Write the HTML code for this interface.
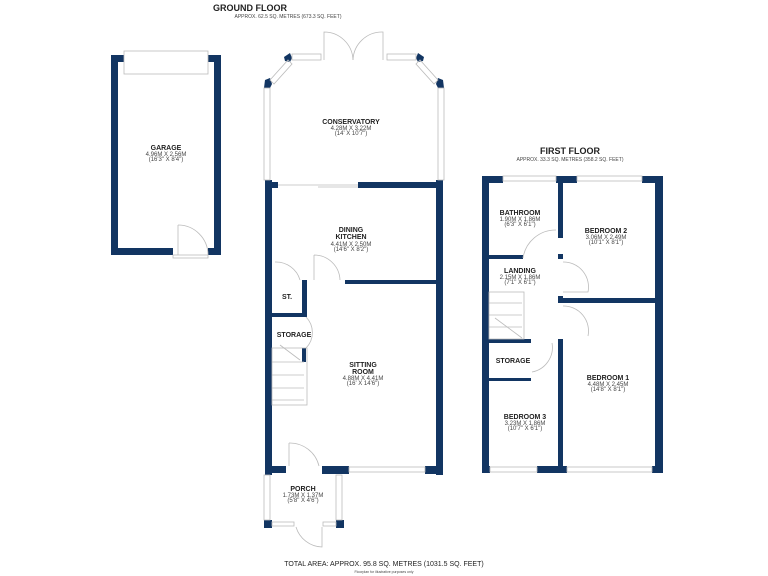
<!DOCTYPE html>
<html><head><style>
html,body{margin:0;padding:0;background:#fff;width:768px;height:576px;overflow:hidden}
svg{display:block}
text{font-family:"Liberation Sans",sans-serif;fill:#222;text-anchor:middle}
.n{font-weight:bold;font-size:7px}
.d{font-size:6px;fill:#444}
</style></head><body>
<svg width="768" height="576" viewBox="0 0 768 576">
<g fill="#123562" stroke="none">
<!-- Garage -->
<rect x="111" y="55" width="7" height="200"/>
<rect x="214" y="55" width="7" height="200"/>
<rect x="111" y="55" width="13" height="7"/>
<rect x="208" y="55" width="13" height="7"/>
<rect x="111" y="248" width="62" height="7"/>
<rect x="208" y="248" width="13" height="7"/>
<!-- Ground floor main -->
<rect x="265" y="180" width="7" height="295"/>
<rect x="436" y="180" width="7" height="295"/>
<rect x="265" y="182" width="13" height="6"/>
<rect x="358" y="182" width="80" height="6"/>
<rect x="345" y="280" width="92" height="4"/>
<rect x="302" y="280" width="5" height="37"/>
<rect x="272" y="313" width="35" height="4"/>
<rect x="302" y="348" width="4" height="14"/>
<rect x="265" y="466" width="21" height="7"/>
<rect x="322" y="466" width="27" height="8"/>
<rect x="425" y="466" width="18" height="8"/>
<rect x="264" y="520" width="8" height="8"/>
<rect x="336" y="520" width="8" height="8"/>
<!-- conservatory corners -->
<polygon points="284,57 290,53 292,58 290,62 285,61"/>
<polygon points="424,57 418,53 416,58 418,62 423,61"/>
<polygon points="265,80 270,78 272,84 270,88 264,88"/>
<polygon points="443,80 438,78 436,84 438,88 444,88"/>
<!-- First floor -->
<rect x="482" y="176" width="7" height="297"/>
<rect x="655" y="176" width="8" height="297"/>
<rect x="482" y="176" width="21" height="7"/>
<rect x="556" y="176" width="21" height="7"/>
<rect x="642" y="176" width="21" height="7"/>
<rect x="482" y="466" width="8" height="7"/>
<rect x="537" y="466" width="30" height="7"/>
<rect x="652" y="466" width="11" height="7"/>
<rect x="558" y="176" width="5" height="62"/>
<rect x="558" y="254" width="5" height="5"/>
<rect x="558" y="296" width="5" height="7"/>
<rect x="558" y="339" width="5" height="127"/>
<rect x="489" y="255" width="34" height="4"/>
<rect x="563" y="298" width="92" height="5"/>
<rect x="489" y="339" width="42" height="4"/>
<rect x="489" y="378" width="42" height="3"/>
</g>
<g fill="none" stroke="#bbb" stroke-width="0.8">
<!-- garage door panel -->
<rect x="124" y="51" width="84" height="23"/>
<line x1="178" y1="225" x2="178" y2="255"/>
<path d="M178 225 A30 30 0 0 1 208 255"/>
<rect x="173" y="255" width="35" height="3"/>
<!-- conservatory windows -->
<rect x="292" y="54" width="29" height="6"/>
<rect x="387" y="54" width="29" height="6"/>
<rect x="264" y="88" width="6" height="92"/>
<rect x="438" y="88" width="6" height="92"/>
<polygon points="270,80 288,60 292,64 274,84"/>
<polygon points="438,80 420,60 416,64 434,84"/>
<path d="M324 60 V32 A29 29 0 0 1 353 60"/>
<path d="M383 60 V32 A29 29 0 0 0 353 60"/>
<line x1="278" y1="185" x2="358" y2="185"/>
<line x1="318" y1="187" x2="358" y2="187"/>
<!-- interior doors -->
<path d="M275 262 A25 25 0 0 1 300 280"/>
<path d="M314 255 A26 26 0 0 1 340 280 M314 255 V280"/>
<path d="M306 317 A22 22 0 0 1 306 348"/>
<!-- stairs -->
<rect x="272" y="348" width="35" height="57"/>
<line x1="272" y1="362" x2="304" y2="362"/><line x1="272" y1="375" x2="304" y2="375"/>
<line x1="272" y1="388" x2="304" y2="388"/><line x1="272" y1="400" x2="304" y2="400"/>
<line x1="280" y1="345" x2="300" y2="360"/>
<!-- sitting window -->
<rect x="349" y="467" width="76" height="5"/>
<path d="M289 443 V466 M289 443 A30 30 0 0 1 319 466"/>
<rect x="264" y="475" width="6" height="45"/>
<rect x="336" y="475" width="6" height="45"/>
<rect x="272" y="522" width="22" height="4"/>
<rect x="323" y="522" width="13" height="4"/>
<path d="M296 527 A28 28 0 0 0 322 547 V527"/>
<!-- first floor windows -->
<rect x="503" y="176" width="53" height="5"/>
<rect x="577" y="176" width="65" height="5"/>
<rect x="490" y="467" width="47" height="5"/>
<rect x="567" y="467" width="85" height="5"/>
<path d="M523 258 A33 33 0 0 1 556 230"/>
<path d="M563 262 A25 25 0 0 1 588 292 H563"/>
<path d="M563 306 A25 25 0 0 1 588 336"/>
<path d="M552 343 A25 25 0 0 1 532 372"/>
<rect x="489" y="292" width="35" height="47"/>
<line x1="489" y1="303" x2="522" y2="303"/><line x1="489" y1="315" x2="522" y2="315"/>
<line x1="489" y1="327" x2="522" y2="327"/><line x1="495" y1="318" x2="522" y2="338"/>
</g>
<text x="250" y="11" style="font-weight:bold;font-size:9px">GROUND FLOOR</text>
<text x="288" y="18" class="d" style="font-size:5px">APPROX. 62.5 SQ. METRES (673.3 SQ. FEET)</text>
<text x="166" y="150" class="n">GARAGE</text><text x="166" y="156" class="d">4.96M X 2.56M</text><text x="166" y="161" class="d">(16'3" X 8'4")</text>
<text x="351" y="124" class="n">CONSERVATORY</text><text x="351" y="130" class="d">4.28M X 3.22M</text><text x="351" y="135" class="d">(14' X 10'7")</text>
<text x="351" y="232" class="n">DINING</text><text x="351" y="239" class="n">KITCHEN</text><text x="351" y="246" class="d">4.41M X 2.50M</text><text x="351" y="251" class="d">(14'6" X 8'2")</text>
<text x="287" y="299" class="n">ST.</text>
<text x="294" y="337" class="n">STORAGE</text>
<text x="363" y="367" class="n">SITTING</text><text x="363" y="374" class="n">ROOM</text><text x="363" y="380" class="d">4.88M X 4.41M</text><text x="363" y="385" class="d">(16' X 14'6")</text>
<text x="303" y="491" class="n">PORCH</text><text x="303" y="497" class="d">1.73M X 1.37M</text><text x="303" y="502" class="d">(5'8" X 4'6")</text>
<text x="570" y="154" style="font-weight:bold;font-size:9px">FIRST FLOOR</text>
<text x="570" y="161" class="d" style="font-size:5px">APPROX. 33.3 SQ. METRES (358.2 SQ. FEET)</text>
<text x="520" y="215" class="n">BATHROOM</text><text x="520" y="221" class="d">1.90M X 1.86M</text><text x="520" y="226" class="d">(6'3" X 6'1")</text>
<text x="606" y="233" class="n">BEDROOM 2</text><text x="606" y="239" class="d">3.06M X 2.49M</text><text x="606" y="244" class="d">(10'1" X 8'1")</text>
<text x="520" y="273" class="n">LANDING</text><text x="520" y="279" class="d">2.15M X 1.86M</text><text x="520" y="284" class="d">(7'1" X 6'1")</text>
<text x="513" y="363" class="n">STORAGE</text>
<text x="608" y="380" class="n">BEDROOM 1</text><text x="608" y="386" class="d">4.48M X 2.45M</text><text x="608" y="391" class="d">(14'8" X 8'1")</text>
<text x="525" y="419" class="n">BEDROOM 3</text><text x="525" y="425" class="d">3.23M X 1.86M</text><text x="525" y="430" class="d">(10'7" X 6'1")</text>
<text x="384" y="566" style="font-size:7px">TOTAL AREA: APPROX. 95.8 SQ. METRES (1031.5 SQ. FEET)</text>
<text x="384" y="573" class="d" style="font-size:3.5px">Floorplan for illustrative purposes only</text>
</svg>
</body></html>
